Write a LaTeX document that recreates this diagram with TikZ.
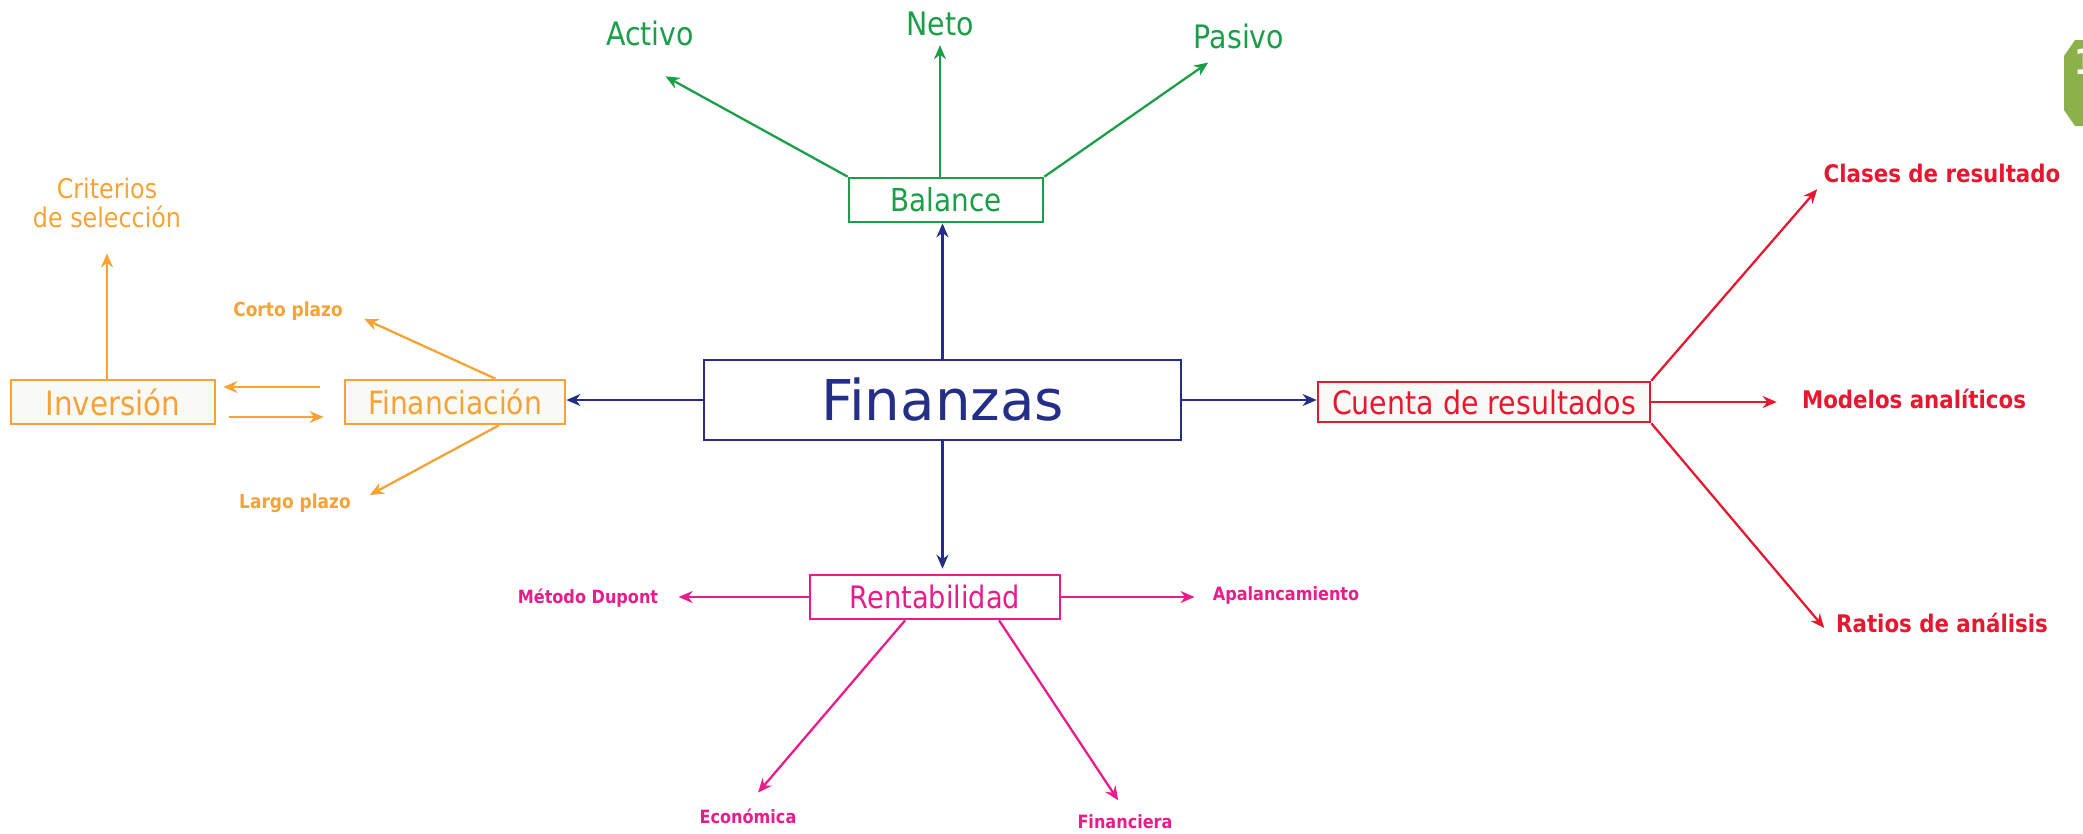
\documentclass[tikz,border=0pt]{standalone}
\usepackage{fontspec}
\setmainfont{DejaVu Sans}[FakeStretch=0.88]
\newfontfamily\anchaFont{DejaVu Sans}
\usetikzlibrary{arrows.meta}

\begin{document}
\begin{tikzpicture}[>={Stealth[length=4pt,width=3.4pt]},
    caja/.style={draw, line width=0.75pt, inner sep=0pt, align=center},
    etiqueta/.style={inner sep=1pt},
    conector/.style={line width=0.65pt}]

    % Colores de cada rama
    \definecolor{azul}{RGB}{36,46,134}
    \definecolor{verde}{RGB}{26,158,72}
    \definecolor{naranja}{RGB}{246,162,52}
    \definecolor{rojo}{RGB}{230,24,48}
    \definecolor{rosa}{RGB}{232,28,138}
    \definecolor{fondo}{RGB}{249,249,246}
    \definecolor{oliva}{RGB}{140,176,74}

    \useasboundingbox (0,0) rectangle (20.83,8.33);

    % Cajas principales
    \node[caja, azul, minimum width=4.77cm, minimum height=0.8cm, font=\anchaFont\fontsize{16}{19}\selectfont] (fin) at (9.425,4.33) {Finanzas};
    \node[caja, verde, minimum width=1.94cm, minimum height=0.44cm, font=\fontsize{9}{11}\selectfont] (bal) at (9.46,6.33) {Balance};
    \node[caja, naranja, fill=fondo, minimum width=2.04cm, minimum height=0.44cm, font=\fontsize{9.5}{11}\selectfont] (inv) at (1.13,4.31) {Inversión};
    \node[caja, naranja, fill=fondo, minimum width=2.2cm, minimum height=0.44cm, font=\fontsize{9.1}{11}\selectfont] (fnc) at (4.55,4.31) {Financiación};
    \node[caja, rojo, fill=fondo, minimum width=3.32cm, minimum height=0.4cm, font=\fontsize{9.2}{11}\selectfont] (cta) at (14.84,4.31) {Cuenta de resultados};
    \node[caja, rosa, minimum width=2.5cm, minimum height=0.44cm, font=\fontsize{8.8}{11}\selectfont] (ren) at (9.35,2.36) {Rentabilidad};

    % Etiquetas del balance
    \node[etiqueta, verde, font=\fontsize{9.2}{11}\selectfont] (act) at (6.50,8.00) {Activo};
    \node[etiqueta, verde, font=\fontsize{9.2}{11}\selectfont] (neto) at (9.40,8.09) {Neto};
    \node[etiqueta, verde, font=\fontsize{9.2}{11}\selectfont] (pas) at (12.39,7.97) {Pasivo};

    % Etiquetas de financiacion e inversion
    \node[etiqueta, naranja, align=center, font=\fontsize{7.7}{8.3}\selectfont] (crit) at (1.07,6.30) {Criterios\\de selección};
    \node[etiqueta, naranja, font=\bfseries\fontsize{5.5}{7}\selectfont] (cor) at (2.88,5.22) {Corto plazo};
    \node[etiqueta, naranja, font=\bfseries\fontsize{5.5}{7}\selectfont] (lar) at (2.95,3.30) {Largo plazo};

    % Etiquetas de la cuenta de resultados
    \node[etiqueta, rojo, font=\bfseries\fontsize{6.9}{8}\selectfont] (cla) at (19.42,6.60) {Clases de resultado};
    \node[etiqueta, rojo, font=\bfseries\fontsize{6.9}{8}\selectfont] (mod) at (19.14,4.34) {Modelos analíticos};
    \node[etiqueta, rojo, font=\bfseries\fontsize{6.9}{8}\selectfont] (rat) at (19.42,2.10) {Ratios de análisis};

    % Etiquetas de rentabilidad
    \node[etiqueta, rosa, font=\bfseries\fontsize{5.2}{6}\selectfont] (met) at (5.88,2.35) {Método Dupont};
    \node[etiqueta, rosa, font=\bfseries\fontsize{5.2}{6}\selectfont] (apa) at (12.86,2.38) {Apalancamiento};
    \node[etiqueta, rosa, font=\bfseries\fontsize{5.2}{6}\selectfont] (eco) at (7.48,0.17) {Económica};
    \node[etiqueta, rosa, font=\bfseries\fontsize{5.2}{6}\selectfont] (fnz) at (11.25,0.11) {Financiera};

    % Flechas desde Finanzas
    \draw[->, azul, conector] (fin.north) -- (fin.north |- bal.south);
    \draw[->, azul, conector, shorten >=1.4pt] (fin.south) -- (fin.south |- ren.north);
    \draw[->, azul, conector] (fin.west) -- (fin.west -| fnc.east);
    \draw[->, azul, conector] (fin.east) -- (fin.east -| cta.west);

    % Flechas del balance
    \draw[->, verde, conector, shorten >=15.7pt] (bal.north west) -- (act.207);
    \draw[->, verde, conector, shorten >=1.4pt] (neto.south |- bal.north) -- (neto.south);
    \draw[->, verde, conector, shorten >=4.9pt] (bal.north east) -- (pas.225);

    % Flechas de inversion y financiacion
    \draw[->, naranja, conector, shorten >=6pt] (crit.south |- inv.north) -- (crit.south);
    \draw[->, naranja, conector, shorten <=6.8pt, shorten >=2pt] ([yshift=0.15cm]fnc.west) -- ([yshift=0.15cm]inv.east);
    \draw[->, naranja, conector, shorten <=3.7pt, shorten >=5.7pt] ([yshift=-0.15cm]inv.east) -- ([yshift=-0.15cm]fnc.west);
    \draw[->, naranja, conector, shorten >=5.4pt] (fnc.30) -- (cor.east);
    \draw[->, naranja, conector, shorten >=4.8pt] (fnc.-28) -- (lar.east);

    % Flechas de la cuenta de resultados
    \draw[->, rojo, conector, shorten >=1pt] (cta.north east) -- (cla.south west);
    \draw[->, rojo, conector, shorten >=6pt] (cta.east) -- (cta.east -| mod.west);
    \draw[->, rojo, conector, shorten >=3.4pt] (cta.south east) -- (rat.south west);

    % Flechas de rentabilidad
    \draw[->, rosa, conector, shorten >=4.6pt] (ren.west) -- (ren.west -| met.east);
    \draw[->, rosa, conector, shorten >=4pt] (ren.east) -- (ren.east -| apa.west);
    \draw[->, rosa, conector, shorten >=4.4pt] (ren.218) -- (eco.north);
    \draw[->, rosa, conector, shorten >=3.5pt] (ren.-20) -- (fnz.north);

    % Numero de pagina cortado en el borde
    \begin{scope}
        \clip (0,0) rectangle (20.83,8.33);
        \fill[oliva] (20.95,7.93) -- (20.75,7.93) -- (20.64,7.77) -- (20.64,7.23) -- (20.75,7.07) -- (20.95,7.07) -- cycle;
        \node[text=white, font=\bfseries\fontsize{10}{12}\selectfont] (pag) at (20.85,7.71) {1};
    \end{scope}

\end{tikzpicture}
\end{document}
